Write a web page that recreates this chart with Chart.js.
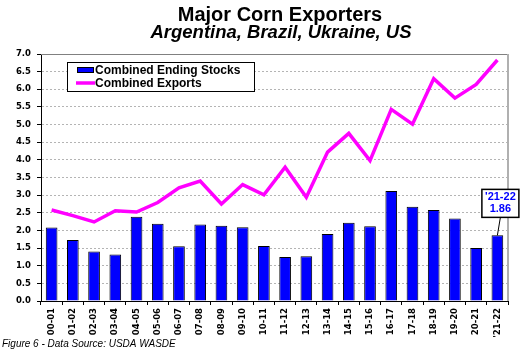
<!DOCTYPE html>
<html>
<head>
<meta charset="utf-8">
<script src="https://cdn.jsdelivr.net/npm/chart.js@4/dist/chart.umd.min.js"></script>
<style>
html,body{margin:0;padding:0;background:#fff;}
canvas{display:block;}
</style>
</head>
<body>
<canvas id="c" width="525" height="356"></canvas>
<script>
const categories = ['00-01','01-02','02-03','03-04','04-05','05-06','06-07','07-08','08-09','09-10','10-11','11-12','12-13','13-14','14-15','15-16','16-17','17-18','18-19','19-20','20-21',"'21-22"];
const stocks = [2.08,1.73,1.40,1.32,2.39,2.19,1.55,2.17,2.13,2.09,1.56,1.25,1.27,1.90,2.22,2.12,3.12,2.67,2.58,2.34,1.50,1.86];
const exportsData = [2.58,2.42,2.24,2.56,2.52,2.79,3.21,3.40,2.75,3.30,3.01,3.79,2.94,4.22,4.75,3.98,5.43,5.01,6.30,5.75,6.14,6.83];
const yMin = 0, yMax = 7, yStep = 0.5;
const titleText = 'Major Corn Exporters';
const subtitleText = 'Argentina, Brazil, Ukraine, US';
const footnoteText = 'Figure 6 - Data Source: USDA WASDE';
const calloutLabel = "'21-22";
const calloutIndex = 21;

const decor = {
  id: 'decor',
  beforeDatasetsDraw(chart) {
    const ctx = chart.ctx, a = chart.chartArea;
    ctx.save();
    ctx.strokeStyle = '#808080'; ctx.lineWidth = 1;
    ctx.beginPath(); ctx.moveTo(a.left, a.top + 0.5); ctx.lineTo(a.right, a.top + 0.5); ctx.stroke();
    ctx.strokeStyle = '#B0B0B0'; ctx.lineWidth = 2;
    ctx.beginPath(); ctx.moveTo(a.right, a.top); ctx.lineTo(a.right, a.bottom); ctx.stroke();
    ctx.restore();
  },
  afterDraw(chart) {
    const ctx = chart.ctx;
    ctx.save();
    // titles
    ctx.fillStyle = '#000';
    ctx.textAlign = 'center'; ctx.textBaseline = 'alphabetic';
    ctx.font = 'bold 20px "Liberation Sans", Arial, sans-serif';
    ctx.fillText(titleText, 280, 21);
    ctx.font = 'italic bold 18.5px "Liberation Sans", Arial, sans-serif';
    ctx.fillText(subtitleText, 281, 38);
    // footnote
    ctx.textAlign = 'left';
    ctx.font = 'italic 10px "Liberation Sans", Arial, sans-serif';
    ctx.fillText(footnoteText, 2, 347);
    // legend
    const ds = chart.data.datasets;
    ctx.fillStyle = '#fff'; ctx.strokeStyle = '#000'; ctx.lineWidth = 1;
    ctx.fillRect(67, 62, 187, 29);
    ctx.strokeRect(67.5, 62.5, 187, 29);
    ctx.fillStyle = ds[0].backgroundColor;
    ctx.fillRect(77, 67, 17, 6);
    ctx.strokeRect(77.5, 67.5, 16, 5);
    ctx.strokeStyle = ds[1].borderColor; ctx.lineWidth = 3.5;
    ctx.beginPath(); ctx.moveTo(76, 83); ctx.lineTo(95, 83); ctx.stroke();
    ctx.fillStyle = '#000'; ctx.textBaseline = 'middle';
    ctx.font = 'bold 12px "Liberation Sans", Arial, sans-serif';
    ctx.fillText(ds[0].label, 95, 70.5);
    ctx.fillText(ds[1].label, 95, 83.5);
    // callout
    const el = chart.getDatasetMeta(0).data[calloutIndex];
    const bx = el.x, by = el.y;
    const cx = bx + 3, bottom = by - 18, h = 28, w = 37;
    ctx.strokeStyle = '#000'; ctx.lineWidth = 1;
    ctx.beginPath(); ctx.moveTo(cx, bottom); ctx.lineTo(bx, by); ctx.stroke();
    ctx.fillStyle = '#fff';
    ctx.fillRect(cx - w/2, bottom - h, w, h);
    ctx.lineWidth = 1.5;
    ctx.strokeRect(cx - w/2, bottom - h, w, h);
    ctx.fillStyle = '#0000FF'; ctx.textAlign = 'center';
    ctx.font = 'bold 11px "Liberation Sans", Arial, sans-serif';
    ctx.fillText(calloutLabel, cx, bottom - 20);
    ctx.fillText(stocks[calloutIndex].toFixed(2), cx, bottom - 8);
    ctx.restore();
  }
};

new Chart(document.getElementById('c'), {
  type: 'bar',
  data: {
    labels: categories,
    datasets: [
      {
        type: 'bar',
        label: 'Combined Ending Stocks',
        data: stocks,
        backgroundColor: '#0000FF',
        borderColor: '#000',
        borderWidth: 1,
        barPercentage: 0.55,
        categoryPercentage: 1.0
      },
      {
        type: 'line',
        label: 'Combined Exports',
        data: exportsData,
        borderColor: '#FF00FF',
        backgroundColor: '#FF00FF',
        borderWidth: 3.5,
        pointRadius: 0,
        tension: 0,
        fill: false
      }
    ]
  },
  options: {
    responsive: false,
    animation: false,
    layout: { padding: { left: 0, right: 17, top: 54, bottom: 0 } },
    plugins: {
      legend: { display: false },
      title: { display: false },
      tooltip: { enabled: false }
    },
    scales: {
      x: {
        offset: true,
        afterFit(s) { s.height = 55; },
        grid: { offset: true, drawOnChartArea: false, drawTicks: true, tickLength: 4, tickColor: '#000' },
        border: { color: '#000', width: 1 },
        ticks: {
          minRotation: 90, maxRotation: 90, autoSkip: false, padding: 3,
          color: '#000',
          font: { family: '"DejaVu Sans", sans-serif', size: 8.5, weight: 'bold' }
        }
      },
      y: {
        min: yMin, max: yMax,
        afterFit(s) { s.width = 41; },
        grid: { color: '#B4B4B4', lineWidth: 1, tickLength: 4, tickColor: '#000' },
        border: { color: '#000', width: 1, dash: [2, 2] },
        ticks: {
          stepSize: yStep, padding: 6, color: '#000',
          font: { family: '"DejaVu Sans", sans-serif', size: 8.5, weight: 'bold' },
          callback: v => Number(v).toFixed(1)
        }
      }
    }
  },
  plugins: [decor]
});
</script>
</body>
</html>
